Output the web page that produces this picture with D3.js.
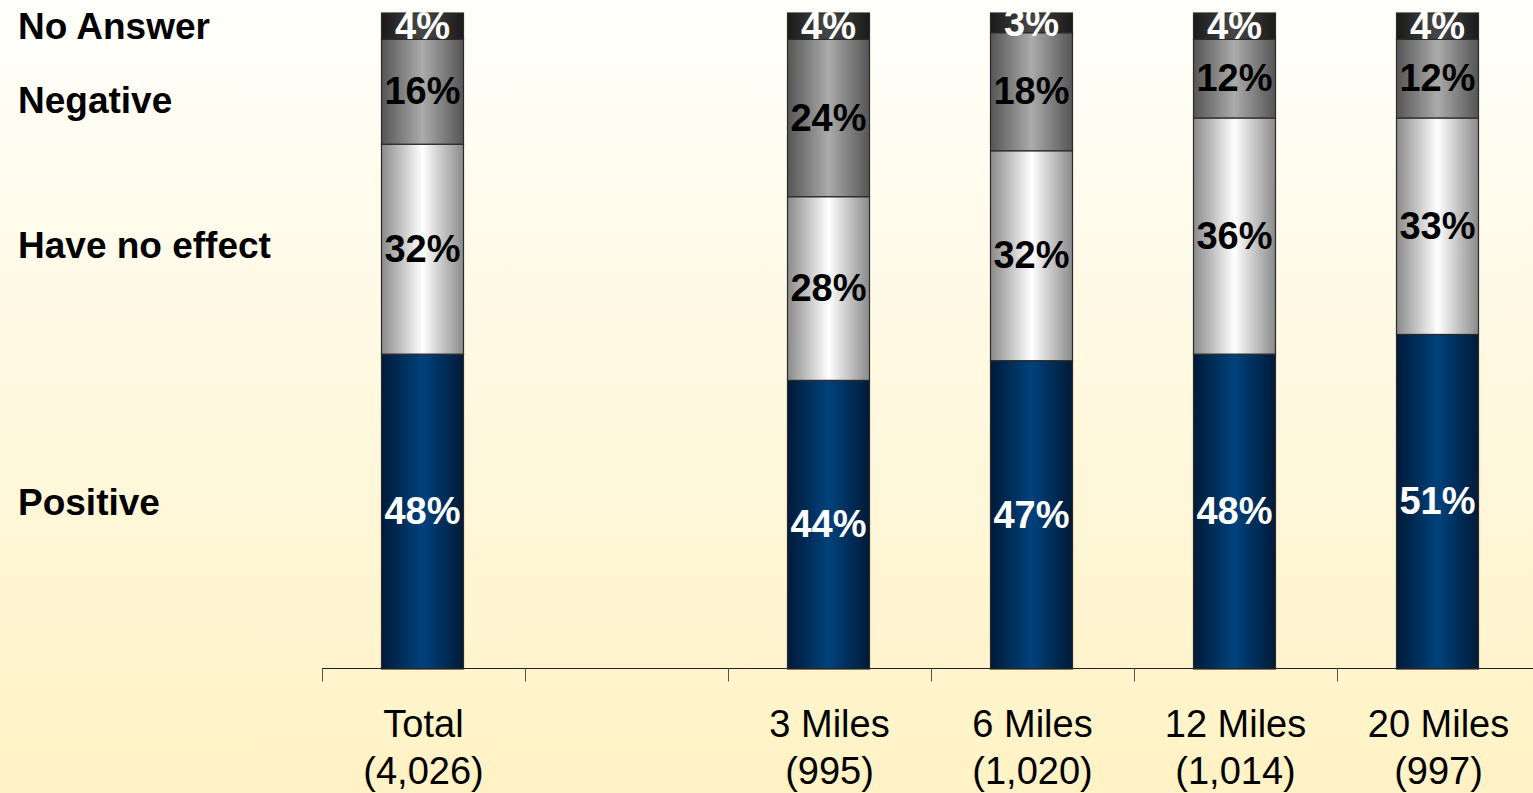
<!DOCTYPE html>
<html>
<head>
<meta charset="utf-8">
<script src="https://cdn.jsdelivr.net/npm/d3@7"></script>
<style>
  html, body { margin: 0; padding: 0; overflow: hidden; }
  svg { display: block; font-family: "Liberation Sans", Arial, sans-serif; }
</style>
</head>
<body>
<div id="chart"></div>
<script>
// categories (blank slot between Total and 3 Miles)
const categories = ["Total", "", "3 Miles", "6 Miles", "12 Miles", "20 Miles"];
const bases = ["(4,026)", "", "(995)", "(1,020)", "(1,014)", "(997)"];
const seriesNames = ["Positive", "Have no effect", "Negative", "No Answer"];

const positive = [48, null, 44, 47, 48, 51];
const noEffect = [32, null, 28, 32, 36, 33];
const negative = [16, null, 24, 18, 12, 12];
const noAnswer = [4, null, 4, 3, 4, 4];

const width = 1533;
const height = 793;
const margin = { top: 13, right: -7, bottom: 124, left: 322 };

const svg = d3.select("#chart")
    .append("svg")
    .attr("width", width)
    .attr("height", height);

const defs = svg.append("defs");

// page background
const bg = defs.append("linearGradient")
    .attr("id", "bg").attr("x1", 0).attr("y1", 0).attr("x2", 0).attr("y2", 1);
bg.append("stop").attr("offset", "0%").attr("stop-color", "#fffffb");
bg.append("stop").attr("offset", "100%").attr("stop-color", "#fff2c4");
svg.append("rect").attr("width", width).attr("height", height).attr("fill", "url(#bg)");

// cylinder-ish shading for each series
const shades = [
    { id: "g0", edge: "#001a38", mid: "#00427c", text: "#ffffff" },
    { id: "g1", edge: "#8a8a8a", mid: "#ffffff", text: "#000000" },
    { id: "g2", edge: "#555555", mid: "#ababab", text: "#000000" },
    { id: "g3", edge: "#1a1a1a", mid: "#474747", text: "#ffffff" }
];
shades.forEach(s => {
    const g = defs.append("linearGradient")
        .attr("id", s.id).attr("x1", 0).attr("y1", 0).attr("x2", 1).attr("y2", 0);
    g.append("stop").attr("offset", "0%").attr("stop-color", s.edge);
    g.append("stop").attr("offset", "50%").attr("stop-color", s.mid);
    g.append("stop").attr("offset", "100%").attr("stop-color", s.edge);
});

const x = d3.scaleBand()
    .domain(d3.range(categories.length))
    .range([margin.left, width - margin.right])
    .paddingInner(0).paddingOuter(0);

const y = d3.scaleLinear()
    .domain([0, 100])
    .range([height - margin.bottom, margin.top]);

const barW = 82;

const rows = categories.map((c, i) => ({
    i,
    vals: [positive[i], noEffect[i], negative[i], noAnswer[i]]
})).filter(d => d.vals[0] != null);

const stackData = rows.map(r => {
    let acc = 0;
    return r.vals.map((v, k) => {
        const seg = { i: r.i, k, v, y0: acc, y1: acc + v };
        acc += v;
        return seg;
    });
}).flat();

const cx = i => x(i) + x.bandwidth() / 2 - 1;

svg.append("g")
    .selectAll("rect")
    .data(stackData)
    .join("rect")
    .attr("x", d => cx(d.i) - barW / 2)
    .attr("width", barW)
    .attr("y", d => y(d.y1))
    .attr("height", d => y(d.y0) - y(d.y1))
    .attr("fill", d => `url(#${shades[d.k].id})`)
    .attr("stroke", "#2a2a2a")
    .attr("stroke-width", 1.2);

// value labels
svg.append("g")
    .selectAll("text")
    .data(stackData)
    .join("text")
    .attr("x", d => cx(d.i))
    .attr("y", d => (y(d.y0) + y(d.y1)) / 2 - 1)
    .attr("dy", "0.36em")
    .attr("text-anchor", "middle")
    .style("font-size", "38px")
    .style("font-weight", "bold")
    .attr("fill", d => shades[d.k].text)
    .text(d => d.v + "%");

// axis line with ticks at band edges
const axisY = height - margin.bottom - 0.5;
const axis = svg.append("g").attr("stroke", "#222");
axis.append("line")
    .attr("x1", margin.left).attr("x2", width)
    .attr("y1", axisY).attr("y2", axisY)
    .attr("stroke-width", 1.2);
axis.selectAll("line.tick")
    .data(d3.range(categories.length))
    .join("line")
    .attr("class", "tick")
    .attr("x1", d => x(d) + 0.5).attr("x2", d => x(d) + 0.5)
    .attr("y1", axisY).attr("y2", axisY + 13)
    .attr("stroke", "#555");

// category labels
const cat = svg.append("g")
    .selectAll("text")
    .data(d3.range(categories.length))
    .join("text")
    .attr("text-anchor", "middle")
    .style("font-size", "38px")
    .attr("fill", "#000");
cat.append("tspan").attr("x", d => x(d) + x.bandwidth() / 2).attr("y", 737).text(d => categories[d]);
cat.append("tspan").attr("x", d => x(d) + x.bandwidth() / 2).attr("y", 784).text(d => bases[d]);

// series names on the left
const legendY = [515, 258, 113, 39];
svg.append("g")
    .selectAll("text")
    .data(seriesNames)
    .join("text")
    .attr("x", 18)
    .attr("y", (d, k) => legendY[k])
    .style("font-size", "37px")
    .style("font-weight", "bold")
    .text(d => d);
</script>
</body>
</html>
